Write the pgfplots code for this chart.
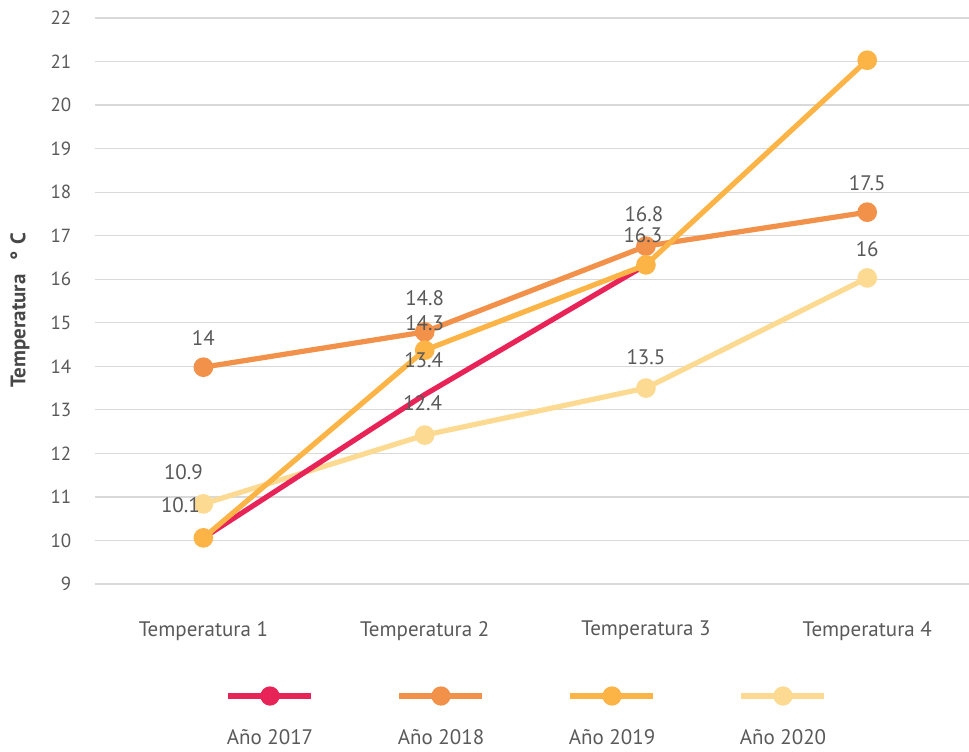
\documentclass[border=0pt]{standalone}
\usepackage{fontspec}
\setmainfont{PT Sans}
\usepackage{pgfplots}
\usepackage{pgfplotstable}
\pgfplotsset{compat=1.18}

\definecolor{c17}{HTML}{E82358}
\definecolor{c18}{HTML}{F2914A}
\definecolor{c19}{HTML}{FBB445}
\definecolor{c20}{HTML}{FCDA92}
\definecolor{txt}{HTML}{595959}
\definecolor{gridc}{HTML}{D9D9D9}

% one table per year: category index, temperature
\pgfplotstableread{
x y
0 10.06
1 13.35
2 16.33
}\tAa
\pgfplotstableread{
x y
0 13.98
1 14.79
2 16.76
3 17.54
}\tAb
\pgfplotstableread{
x y
0 10.06
1 14.37
2 16.33
3 21.03
}\tAc
\pgfplotstableread{
x y
0 10.84
1 12.42
2 13.50
3 16.03
}\tAd
% data labels as they stand in the chart (shift in pt)
\pgfplotstableread{
x y lab dx dy
0 10.06 10.1 -11.5 16.5
1 13.35 13.4 -0.5 17.3
0 13.98 14 0 14.5
1 14.79 14.8 0 17
2 16.76 16.8 -1 16
3 17.54 17.5 0 14.5
1 14.37 14.3 0 13.5
2 16.33 16.3 -1.5 15
0 10.84 10.9 -10 16
1 12.42 12.4 -1 16
2 13.50 13.5 0 15.5
3 16.03 16 0 14.5
}\tLab

\newcommand\legimg[2]{\addlegendimage{legend image code/.code={
    \draw[#1,line width=3pt] (0pt,0pt)--(41.5pt,0pt);
    \fill[#1] (20.75pt,0pt) circle (3.5pt);
    \node[font=\fontsize{10.5}{12}\selectfont,text=txt,inner sep=0pt] at (20.75pt,-21pt) {#2};}}
  \addlegendentry{}}

\begin{document}
\begin{tikzpicture}
\begin{axis}[
    name=ax,
    scale only axis,
    width=437pt, height=283pt,
    xmin=-0.49, xmax=3.46,
    ymin=9, ymax=22,
    ytick={9,...,22},
    xtick={0,1,2,3},
    xticklabels={Temperatura 1,Temperatura 2,Temperatura 3,Temperatura 4},
    axis line style={draw=none},
    major tick length=0pt,
    ymajorgrids,
    grid style={gridc, line width=0.6pt},
    ticklabel style={text=txt},
    yticklabel style={font=\fontsize{9.5}{11}\selectfont, xshift=-8.3pt},
    xticklabel style={font=\fontsize{10.5}{12}\selectfont, yshift=-15pt},
    /pgf/number format/assume math mode=true,
    ylabel={Temperatura\enspace\,°\,\,C},
    ylabel style={font=\bfseries\fontsize{10.5}{12}\selectfont, text=txt!80!black,
        at={(axis description cs:0,0.5)}, anchor=center, yshift=37.5pt, xshift=-4.5pt},
    clip=false,
    legend columns=4,
    legend style={at={(axis description cs:0.5,0)}, anchor=north,
        yshift=-51pt, xshift=-2.25pt, draw=none, fill=none, inner sep=0pt,
        nodes={inner sep=0pt},
        /tikz/every even column/.append style={column sep=40pt}},
    every axis plot/.append style={line width=2.6pt, mark=*, mark size=3.6pt},
]
\legimg{c17}{Año 2017}
\legimg{c18}{Año 2018}
\legimg{c19}{Año 2019}
\legimg{c20}{Año 2020}

\addplot[c20, mark options={fill=c20, draw=c20}, forget plot] table[x=x,y=y] {\tAd};
\addplot[c18, mark options={fill=c18, draw=c18}, forget plot] table[x=x,y=y] {\tAb};
\addplot[c17, mark=none, forget plot] table[x=x,y=y] {\tAa};
\addplot[c19, mark options={fill=c19, draw=c19}, forget plot] table[x=x,y=y] {\tAc};

\addplot[draw=none, mark=none, forget plot,
    point meta=explicit symbolic,
    visualization depends on={\thisrow{dx}\as\dx},
    visualization depends on={\thisrow{dy}\as\dy},
    nodes near coords,
    nodes near coords style={anchor=center, xshift=\dx pt, yshift=\dy pt,
        font=\fontsize{10.5}{12}\selectfont, text=txt, inner sep=0pt},
    ] table[x=x, y=y, meta=lab] {\tLab};
\end{axis}
\pgfresetboundingbox
\path ([xshift=-47.5pt,yshift=-83.5pt]ax.south west) rectangle ([yshift=9pt]ax.north east);
\end{tikzpicture}
\end{document}
